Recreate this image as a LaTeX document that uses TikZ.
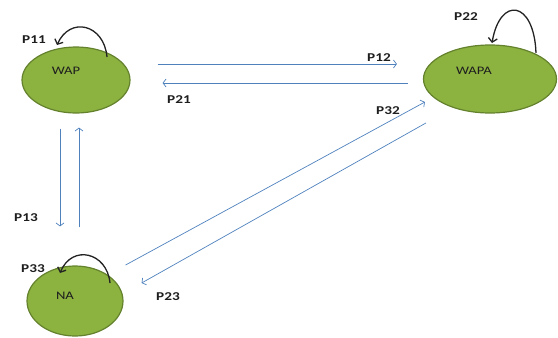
\documentclass[tikz,border=0pt]{standalone}
\usepackage{fontspec}
\setmainfont{Carlito}
\usetikzlibrary{shapes.geometric,arrows.meta}
\definecolor{stfill}{RGB}{140,178,64}
\definecolor{stdraw}{RGB}{100,130,45}
\definecolor{flowblue}{RGB}{79,129,189}
\definecolor{loopgray}{RGB}{35,35,35}
\definecolor{txtdark}{RGB}{30,30,30}
\newcommand{\wideText}[1]{\scalebox{1.27}[1]{#1}}
\tikzset{
  state/.style={ellipse, draw=stdraw, fill=stfill, line width=1.2pt, inner sep=0pt},
  stname/.style={font=\fontsize{11.5}{14}\selectfont, text=txtdark, inner sep=0pt},
  plabel/.style={font=\fontsize{12}{14}\selectfont\bfseries, text=txtdark, inner sep=0pt},
  flow/.style={draw=flowblue, line width=0.7pt, -{Straight Barb[length=3pt,width=8pt]}},
  selfloop/.style={draw=loopgray, line width=1.3pt, -{Straight Barb[length=4pt,width=9pt]}}
}
\begin{document}
\begin{tikzpicture}[x=1pt,y=-1pt]
\useasboundingbox (0,0) rectangle (558,338);
% states
\node[state, minimum width=108pt, minimum height=66pt] (wap) at (76,80) {};
\node[state, minimum width=133pt, minimum height=68pt] (wapa) at (490,79) {};
\node[state, minimum width=96pt, minimum height=70pt] (na) at (75,301) {};
\node[stname] (twap) at (66,71) {\wideText{WAP}};
\node[stname] (twapa) at (474,71) {\wideText{WAPA}};
\node[stname] (tna) at (65,296) {\wideText{NA}};
% transitions
\draw[flow] ([shift={(27,-16)}]wap.east) -- ([shift={(-26,-15)}]wapa.west);
\draw[flow] ([shift={(-15,4)}]wapa.west) -- ([shift={(32,3)}]wap.east);
\draw[flow] ([shift={(-16,15)}]wap.south) -- ([shift={(-15,-39)}]na.north);
\draw[flow] ([shift={(4,-38)}]na.north) -- ([shift={(3,14)}]wap.south);
\draw[flow] ([shift={(2,-36)}]na.east) -- ([shift={(2,23)}]wapa.west);
\draw[flow] ([shift={(3,44)}]wapa.west) -- ([shift={(18,-18)}]na.east);
% self loops
\draw[selfloop] ([shift={(31,-23)}]wap.center) .. controls (104,24) and (70,16) .. ([shift={(-19,-35)}]wap.center);
\draw[selfloop] ([shift={(46,-26)}]wapa.center) .. controls (534,0) and (500,-4) .. ([shift={(2,-36)}]wapa.center);
\draw[selfloop] ([shift={(35,-18)}]na.center) .. controls (107,252) and (72,244) .. ([shift={(-15,-28)}]na.center);
% labels
\node[plabel] (p11) at (34,40) {\wideText{P11}};
\node[plabel] (p22) at (466,17) {\wideText{P22}};
\node[plabel] (p33) at (33,269) {\wideText{P33}};
\node[plabel] (p12) at (379,58) {\wideText{P12}};
\node[plabel] (p21) at (179,100) {\wideText{P21}};
\node[plabel] (p32) at (388,111) {\wideText{P32}};
\node[plabel] (p23) at (168,297) {\wideText{P23}};
\node[plabel] (p13) at (26,218) {\wideText{P13}};
\end{tikzpicture}
\end{document}
